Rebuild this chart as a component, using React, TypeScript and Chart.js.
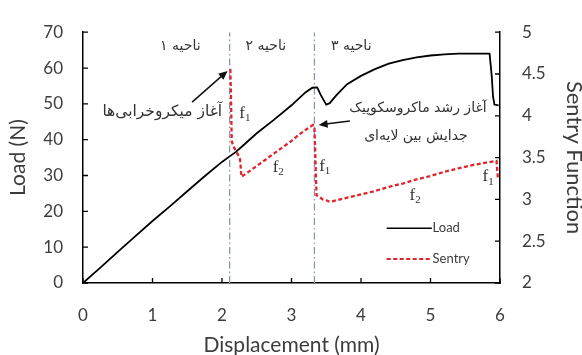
import React, { useEffect, useRef } from "react";
import { Chart, registerables } from "chart.js";

Chart.register(...registerables);

// Load (N) vs displacement (mm)
const loadX = [0, 0.25, 0.5, 0.75, 1, 1.25, 1.5, 1.75, 2, 2.1, 2.2, 2.3, 2.5, 2.75, 3.0, 3.2, 3.3, 3.37, 3.42, 3.5, 3.55, 3.65, 3.8, 4.0, 4.2, 4.4, 4.6, 4.8, 5.0, 5.2, 5.4, 5.6, 5.85, 5.88, 5.9, 5.92, 5.98];
const loadY = [0, 4.3, 8.7, 13, 17.3, 21.4, 25.6, 29.8, 33.8, 35.2, 36.6, 38.3, 41.8, 45.6, 49.6, 53.2, 54.5, 54.6, 52.5, 49.8, 50.2, 52.5, 55.5, 57.8, 59.7, 61.2, 62.2, 63, 63.5, 63.8, 64, 64, 64, 58, 52, 49.8, 49.6];

// Sentry function vs displacement (mm)
const sentryX = [2.12, 2.13, 2.14, 2.16, 2.2, 2.24, 2.26, 2.28, 2.5, 2.75, 3.0, 3.1, 3.2, 3.27, 3.31, 3.33, 3.34, 3.35, 3.36, 3.4, 3.45, 3.5, 3.55, 3.6, 3.7, 3.8, 4.0, 4.2, 4.4, 4.6, 4.8, 5.0, 5.2, 5.4, 5.6, 5.8, 5.95, 5.96, 5.97];
const sentryY = [4.56, 4.2, 3.7, 3.64, 3.58, 3.52, 3.48, 3.27, 3.4, 3.55, 3.7, 3.77, 3.83, 3.87, 3.89, 3.85, 3.6, 3.3, 3.05, 3.03, 3.0, 2.99, 2.97, 2.98, 3.0, 3.02, 3.06, 3.1, 3.15, 3.19, 3.24, 3.28, 3.33, 3.37, 3.41, 3.44, 3.46, 3.35, 3.25];

// Region boundaries (mm)
const regionBounds = [2.11, 3.33];

const xTicks = [0, 1, 2, 3, 4, 5, 6];
const loadTicks = [0, 10, 20, 30, 40, 50, 60, 70];
const sentryTicks = [2, 2.5, 3, 3.5, 4, 4.5, 5];

// Texts (Persian) with their data-space anchor (x in mm, y in N)
const regionLabels = ["ناحیه ۱", "ناحیه ۲", "ناحیه ۳"];
const regionLabelX = [1.4, 2.63, 3.86];
const regionLabelY = 66.1;
const noteMicro = "آغاز میکروخرابی‌ها";
const noteMacro1 = "آغاز رشد ماکروسکوپیک";
const noteMacro2 = "جدایش بین لایه‌ای";
const fLabels = ["1", "2", "1", "2", "1"];
const fLabelX = [2.33, 2.81, 3.48, 4.78, 5.83];
const fLabelY = [47.3, 32.3, 32.5, 24.5, 29.6];

const FONT = "Lato, 'Open Sans', sans-serif";
const FA_FONT = "'DejaVu Sans', sans-serif";
const TXT = "#3c3c3c";

const annotate = {
  id: "annotate",
  afterDatasetsDraw(chart: any) {
    const { ctx } = chart;
    const xs = chart.scales.x;
    const ys = chart.scales.y;
    const y2s = chart.scales.y2;
    const px = (v: number) => xs.getPixelForValue(v);
    const py = (v: number) => ys.getPixelForValue(v);
    const area = chart.chartArea;
    ctx.save();

    // inward tick marks
    ctx.strokeStyle = "#000";
    ctx.lineWidth = 1.3;
    ctx.beginPath();
    xTicks.forEach((v) => {
      const x = px(v);
      ctx.moveTo(x, area.bottom);
      ctx.lineTo(x, area.bottom - 5);
    });
    loadTicks.forEach((v) => {
      const y = py(v);
      ctx.moveTo(area.left, y);
      ctx.lineTo(area.left + 5, y);
    });
    sentryTicks.forEach((v) => {
      const y = y2s.getPixelForValue(v);
      ctx.moveTo(area.right, y);
      ctx.lineTo(area.right - 5, y);
    });
    ctx.stroke();

    ctx.fillStyle = "#333";
    ctx.textBaseline = "middle";
    ctx.textAlign = "center";
    ctx.direction = "rtl";
    ctx.font = `14px ${FA_FONT}`;
    regionLabels.forEach((t, i) => ctx.fillText(t, px(regionLabelX[i]), py(regionLabelY)));
    ctx.font = `15.5px ${FA_FONT}`;
    ctx.fillText(noteMicro, px(1.14), py(47.6));
    ctx.font = `14px ${FA_FONT}`;
    ctx.fillText(noteMacro1, px(4.82), py(48.7));
    ctx.fillText(noteMacro2, px(4.79), py(40.9));
    ctx.direction = "ltr";

    const arrow = (x1: number, y1: number, x2: number, y2: number) => {
      const a = px(x1), b = py(y1), c = px(x2), d = py(y2);
      const ang = Math.atan2(d - b, c - a);
      const hl = 9, hw = 4;
      ctx.strokeStyle = "#111";
      ctx.lineWidth = 1.5;
      ctx.beginPath();
      ctx.moveTo(a, b);
      ctx.lineTo(c - Math.cos(ang) * hl * 0.8, d - Math.sin(ang) * hl * 0.8);
      ctx.stroke();
      ctx.fillStyle = "#111";
      ctx.beginPath();
      ctx.moveTo(c, d);
      ctx.lineTo(c - Math.cos(ang) * hl + Math.sin(ang) * hw, d - Math.sin(ang) * hl - Math.cos(ang) * hw);
      ctx.lineTo(c - Math.cos(ang) * hl - Math.sin(ang) * hw, d - Math.sin(ang) * hl + Math.cos(ang) * hw);
      ctx.closePath();
      ctx.fill();
    };
    arrow(1.57, 50.5, 2.08, 59.2);
    arrow(3.84, 45.2, 3.39, 44.1);

    // f labels
    ctx.fillStyle = "#333";
    fLabels.forEach((s, i) => {
      const x = px(fLabelX[i]);
      const y = py(fLabelY[i]);
      ctx.font = `17px 'Liberation Serif', serif`;
      ctx.textAlign = "right";
      ctx.fillText("f", x, y);
      ctx.font = `11px 'Liberation Serif', serif`;
      ctx.textAlign = "left";
      ctx.fillText(s, x, y + 5);
    });

    // legend
    ctx.font = `13px ${FONT}`;
    ctx.textAlign = "left";
    ctx.lineWidth = 1.5;
    ctx.strokeStyle = "#000";
    ctx.beginPath();
    ctx.moveTo(px(4.37), py(15.3));
    ctx.lineTo(px(5.02), py(15.3));
    ctx.stroke();
    ctx.fillStyle = TXT;
    ctx.fillText("Load", px(5.03), py(15.3));
    ctx.strokeStyle = "#e0242c";
    ctx.lineWidth = 2;
    ctx.setLineDash([4, 2.5]);
    ctx.beginPath();
    ctx.moveTo(px(4.37), py(6.7));
    ctx.lineTo(px(5.02), py(6.7));
    ctx.stroke();
    ctx.setLineDash([]);
    ctx.fillText("Sentry", px(5.03), py(6.7));
    ctx.restore();
  },
};

export default function App() {
  const ref = useRef<HTMLCanvasElement>(null);
  useEffect(() => {
    if (!ref.current) return;
    const tickCommon = {
      color: TXT,
      font: { family: FONT, size: 17 },
      callback: (v: any) => String(v),
    };
    const gridCommon = {
      drawOnChartArea: false,
      drawTicks: false,
    };
    const borderCommon = { display: true, color: "#000", width: 1.5 };
    const chart = new Chart(ref.current, {
      type: "line",
      data: {
        datasets: [
          ...regionBounds.map((b) => ({
            label: "bound",
            data: [{ x: b, y: 0 }, { x: b, y: 70 }],
            yAxisID: "y",
            borderColor: "#8898b0",
            borderWidth: 1.3,
            borderDash: [7, 3, 1.5, 3],
            pointRadius: 0,
            order: 3,
          })),
          {
            label: "Load",
            data: loadX.map((x, i) => ({ x, y: loadY[i] })),
            yAxisID: "y",
            borderColor: "#000",
            borderWidth: 1.8,
            pointRadius: 0,
            tension: 0,
            order: 1,
          },
          {
            label: "Sentry",
            data: sentryX.map((x, i) => ({ x, y: sentryY[i] })),
            yAxisID: "y2",
            borderColor: "#e0242c",
            borderWidth: 2.3,
            borderDash: [4, 2.5],
            pointRadius: 0,
            tension: 0,
            order: 2,
          },
        ],
      },
      options: {
        animation: false,
        responsive: true,
        maintainAspectRatio: false,
        layout: { padding: { top: 23, left: 0, right: 0, bottom: 0 } },
        plugins: { legend: { display: false }, tooltip: { enabled: false } },
        scales: {
          x: {
            type: "linear",
            min: 0,
            max: 6,
            afterBuildTicks: (s: any) => { s.ticks = xTicks.map((v) => ({ value: v })); },
            ticks: { ...tickCommon, padding: 22 },
            grid: gridCommon,
            border: borderCommon,
            title: { display: true, text: "Displacement (mm)", color: TXT, font: { family: FONT, size: 21 }, padding: { top: 0, bottom: -3 } },
            afterFit: (s: any) => { s.height = 72; },
          },
          y: {
            type: "linear",
            position: "left",
            min: 0,
            max: 70,
            afterBuildTicks: (s: any) => { s.ticks = loadTicks.map((v) => ({ value: v })); },
            ticks: { ...tickCommon, padding: 20 },
            grid: gridCommon,
            border: borderCommon,
            title: { display: true, text: "Load (N)", color: TXT, font: { family: FONT, size: 21 }, padding: { top: 6, bottom: 0 } },
            afterFit: (s: any) => { s.width = 83; },
          },
          y2: {
            type: "linear",
            position: "right",
            min: 2,
            max: 5,
            afterBuildTicks: (s: any) => { s.ticks = sentryTicks.map((v) => ({ value: v })); },
            ticks: { ...tickCommon, padding: 22 },
            grid: gridCommon,
            border: borderCommon,
            title: { display: true, text: "Sentry Function", color: TXT, font: { family: FONT, size: 22 }, padding: { top: -5, bottom: 0 } },
            afterFit: (s: any) => { s.width = 82; },
          },
        },
      },
      plugins: [annotate],
    } as any);
    return () => chart.destroy();
  }, []);
  return (
    <div style={{ position: "fixed", left: 0, top: 0, width: 582, height: 355, background: "#fff" }}>
      <canvas ref={ref} />
    </div>
  );
}
